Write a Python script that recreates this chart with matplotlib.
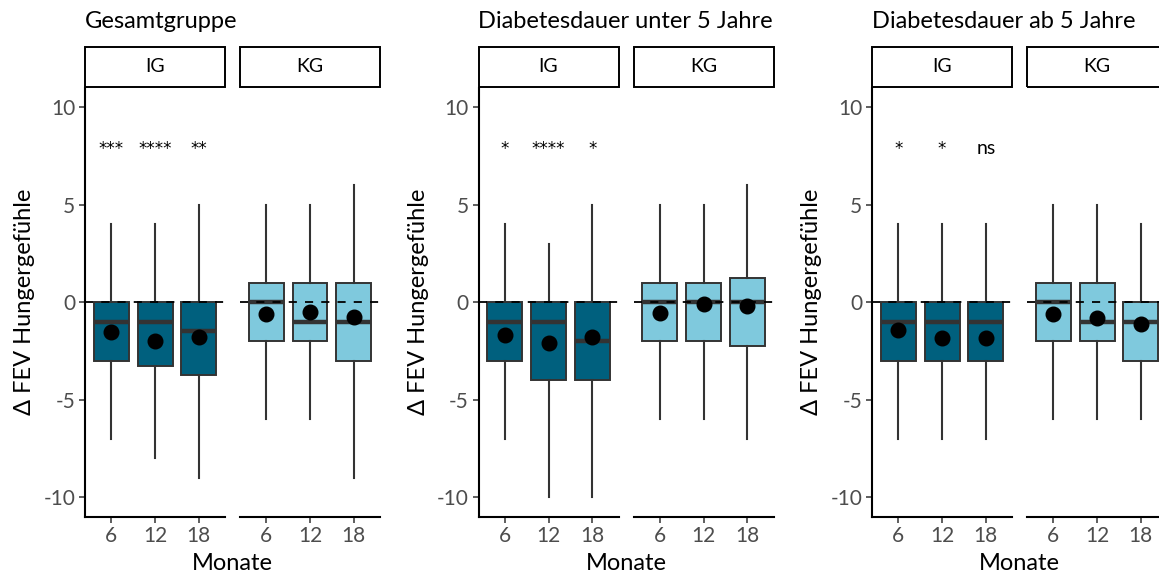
import matplotlib.pyplot as plt
from matplotlib.patches import Rectangle

plt.rcParams['font.family'] = ['Lato', 'DejaVu Sans']
plt.rcParams['axes.unicode_minus'] = False

months = ["6", "12", "18"]
groups = ["IG", "KG"]
panel_titles = ["Gesamtgruppe", "Diabetesdauer unter 5 Jahre", "Diabetesdauer ab 5 Jahre"]

# je Panel: [IG, KG], Werte fuer 6/12/18 Monate
gesamt_low = [[-7, -8, -9], [-6, -6, -9]]
gesamt_q1 = [[-3, -3.25, -3.75], [-2, -2, -3]]
gesamt_med = [[-1, -1, -1.5], [0, -1, -1]]
gesamt_q3 = [[0, 0, 0], [1, 1, 1]]
gesamt_high = [[4, 4, 5], [5, 5, 6]]
gesamt_mean = [[-1.51, -1.97, -1.8], [-0.58, -0.51, -0.77]]
gesamt_sig = ["***", "****", "**"]

unter5_low = [[-7, -10, -10], [-6, -6, -7]]
unter5_q1 = [[-3, -4, -4], [-2, -2, -2.25]]
unter5_med = [[-1, -1, -2], [0, 0, 0]]
unter5_q3 = [[0, 0, 0], [1, 1, 1.25]]
unter5_high = [[4, 3, 5], [5, 5, 6]]
unter5_mean = [[-1.68, -2.11, -1.77], [-0.53, -0.1, -0.17]]
unter5_sig = ["*", "****", "*"]

ab5_low = [[-7, -7, -7], [-6, -6, -6]]
ab5_q1 = [[-3, -3, -3], [-2, -2, -3]]
ab5_med = [[-1, -1, -1], [0, -1, -1]]
ab5_q3 = [[0, 0, 0], [1, 1, 0]]
ab5_high = [[4, 4, 4], [5, 5, 4]]
ab5_mean = [[-1.42, -1.85, -1.85], [-0.62, -0.82, -1.13]]
ab5_sig = ["*", "*", "ns"]

panels = [
    (gesamt_low, gesamt_q1, gesamt_med, gesamt_q3, gesamt_high, gesamt_mean, gesamt_sig),
    (unter5_low, unter5_q1, unter5_med, unter5_q3, unter5_high, unter5_mean, unter5_sig),
    (ab5_low, ab5_q1, ab5_med, ab5_q3, ab5_high, ab5_mean, ab5_sig),
]
colors = ["#00607E", "#7FC9DD"]
edge = "#333333"

W, H = 1159, 574
fig = plt.figure(figsize=(W / 100, H / 100), dpi=100)


def rect(x0, y0, x1, y1):
    # Pixel (oben links) -> Figure-Koordinaten
    return [x0 / W, 1 - y1 / H, (x1 - x0) / W, (y1 - y0) / H]


for p, (low, q1, med, q3, high, mean, sig) in enumerate(panels):
    left = 85 + 393.5 * p
    for g in range(2):
        x0 = left + g * 155
        ax = fig.add_axes(rect(x0, 88, x0 + 140, 516.5))
        stats = [dict(whislo=low[g][i], q1=q1[g][i], med=med[g][i],
                      q3=q3[g][i], whishi=high[g][i], fliers=[])
                 for i in range(3)]
        ax.bxp(stats, positions=[1, 2, 3], widths=0.8, patch_artist=True,
               showcaps=False, showfliers=False,
               boxprops=dict(facecolor=colors[g], edgecolor=edge, lw=1.4),
               medianprops=dict(color=edge, lw=3.2, solid_capstyle='butt'),
               whiskerprops=dict(color=edge, lw=1.5))
        ax.axhline(0, color='black', lw=1.3, ls=(0, (4.5, 4.5)), zorder=4)
        ax.plot([1, 2, 3], mean[g], 'o', color='black', ms=10.5, zorder=5)
        ax.set_xlim(0.4, 3.6)
        ax.set_ylim(-11, 11)
        ax.set_xticks([1, 2, 3], months)
        for s in ['top', 'right']:
            ax.spines[s].set_visible(False)
        ax.spines['bottom'].set_linewidth(1.5)
        ax.tick_params(axis='both', colors=edge, labelcolor='#4D4D4D',
                       labelsize=15, length=4, width=1.1, pad=3)
        if g == 0:
            ax.spines['left'].set_linewidth(1.5)
            ax.set_yticks([-10, -5, 0, 5, 10])
            for i in range(3):
                if sig[i] == "ns":
                    ax.text(i + 1, 7.6, sig[i], ha='center', va='baseline', fontsize=14)
                else:
                    ax.text(i + 1, 7.6, sig[i], ha='center', va='baseline',
                            fontsize=12, family=['DejaVu Sans'])
        else:
            ax.spines['left'].set_visible(False)
            ax.set_yticks([])
        fig.add_artist(Rectangle((x0 / W, 1 - 87 / H), 140 / W, 40 / H,
                                 transform=fig.transFigure, fill=False,
                                 ec='black', lw=1.4))
        fig.text((x0 + 70) / W, 1 - 67 / H, groups[g], ha='center', va='center',
                 fontsize=14)
    fig.text(left / W, 1 - 21 / H, panel_titles[p], ha='left', va='center', fontsize=17)
    fig.text((left - 60) / W, 1 - 302 / H, "Δ FEV Hungergefühle", rotation=90,
             ha='center', va='center', fontsize=17)
    fig.text((left + 147.5) / W, 1 - 563 / H, "Monate", ha='center', va='center',
             fontsize=17)

fig.savefig("out.png", dpi=100)
